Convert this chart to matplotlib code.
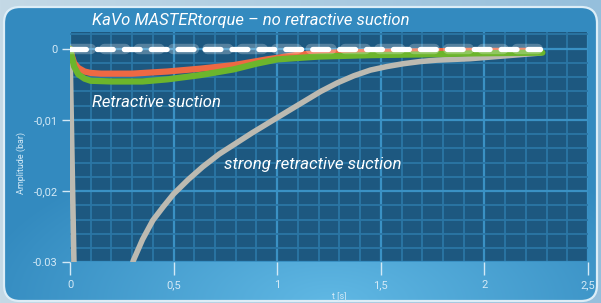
import numpy as np
import matplotlib
matplotlib.use("Agg")
import matplotlib.pyplot as plt
from matplotlib.patches import FancyBboxPatch

# ---- data (t in s, amplitude in bar) ----
t_orange = [0, 0.01, 0.02, 0.04, 0.07, 0.10, 0.15, 0.30, 0.47, 0.63, 0.79, 0.95, 1.11, 1.30,
            1.60, 1.90, 2.27]
amp_orange = [0, -0.0011, -0.0020, -0.0027, -0.0032, -0.0034, -0.0035, -0.0035, -0.0032,
              -0.0028, -0.0023, -0.0015, -0.0008, -0.0005, -0.0004, -0.0003, -0.0003]

t_green = [0, 0.01, 0.02, 0.04, 0.07, 0.10, 0.20, 0.35, 0.47, 0.63, 0.79, 0.90, 1.00, 1.20,
           1.45, 1.70, 1.95, 2.28]
amp_green = [0, -0.0013, -0.0025, -0.0036, -0.0042, -0.0045, -0.0046, -0.0046, -0.0043,
             -0.0037, -0.0029, -0.0021, -0.0015, -0.0011, -0.0009, -0.0008, -0.00065, -0.00055]

t_strong = [0, 0.005, 0.012, 0.019, 0.025, 0.28, 0.305, 0.35, 0.40, 0.45, 0.50, 0.57, 0.64,
            0.72, 0.80, 0.88, 0.965, 1.05, 1.13, 1.21, 1.29, 1.37, 1.45, 1.53, 1.61, 1.69,
            1.77, 1.85, 1.93, 2.10, 2.27]
amp_strong = [0, -0.008, -0.019, -0.030, -0.036, -0.033, -0.0298, -0.0268, -0.0241, -0.0222,
              -0.0204, -0.0184, -0.0166, -0.0148, -0.0133, -0.0118, -0.0103, -0.0088, -0.0074,
              -0.0060, -0.0048, -0.0038, -0.0030, -0.0025, -0.0021, -0.0018, -0.0016, -0.0015,
              -0.0014, -0.0010, -0.0006]

t_master = [0, 2.27]
amp_master = [0, 0]

x_ticks = [0, 0.5, 1, 1.5, 2, 2.5]
x_labels = ["0", "0,5", "1", "1,5", "2", "2,5"]
y_ticks = [0, -0.01, -0.02, -0.03]
y_labels = ["0", "-0,01", "-0,02", "-0.03"]

TXT = "#d3e9f6"
FONT = ["Roboto", "DejaVu Sans"]

fig = plt.figure(figsize=(6.01, 3.03), dpi=100)

# ---- background: outer gradient + rounded panel ----
bg = fig.add_axes([0, 0, 1, 1])
bg.set_xlim(0, 601)
bg.set_ylim(303, 0)
bg.axis("off")

xx, yy = np.meshgrid(np.linspace(0, 1, 601), np.linspace(0, 1, 303))
c0 = np.array([0xc4, 0xd9, 0xe6]) / 255
c1 = np.array([0x95, 0xbf, 0xdc]) / 255
outer = c0 + (c1 - c0) * xx[..., None]
bg.imshow(outer, extent=(0, 601, 303, 0), aspect="auto", zorder=0)

dark = np.array([0x33, 0x8a, 0xbf]) / 255
light = np.array([0x60, 0xb8, 0xe4]) / 255
w = np.clip(1 - np.sqrt(((xx - 0.55) / 0.6) ** 2 + ((yy - 1.0) / 0.55) ** 2), 0, 1)
panel_img = dark + (light - dark) * w[..., None]
im = bg.imshow(panel_img, extent=(0, 601, 303, 0), aspect="auto", zorder=1)
panel = FancyBboxPatch((4, 7), 593, 294, boxstyle="round,pad=0,rounding_size=16",
                       facecolor="none", edgecolor="#dcedf7", linewidth=1.6, zorder=2)
bg.add_patch(panel)
im.set_clip_path(panel)

bg.text(92, 20, "KaVo MASTERtorque \u2013 no retractive suction", color="white",
        fontsize=12, style="italic", family=FONT, ha="left", va="center")
bg.text(21, 163, "Amplitude (bar)", color=TXT, fontsize=6.5, family=FONT,
        rotation=90, ha="center", va="center")
bg.text(339, 297, "t [s]", color=TXT, fontsize=6.5, family=FONT, ha="center", va="center")

# ---- plot area ----
ax = fig.add_axes([70 / 601, (303 - 262.3) / 303, 518 / 601, 230.3 / 303])
ax.set_facecolor("#1d5880")
ax.set_xlim(0, 2.5)
ax.set_ylim(-0.03, 0.00235)
for s in ax.spines.values():
    s.set_visible(False)

ax.set_xticks(x_ticks)
ax.set_xticklabels(x_labels)
ax.set_yticks(y_ticks)
ax.set_yticklabels(y_labels)
ax.set_xticks(np.arange(0, 2.51, 0.1), minor=True)
ax.set_yticks(np.arange(-0.03, 0.0025, 0.002), minor=True)
ax.tick_params(which="minor", length=0)
ax.tick_params(axis="x", which="major", length=9, width=1, color=TXT, pad=4,
               labelsize=8, labelcolor=TXT)
ax.tick_params(axis="y", which="major", length=6, width=1, color=TXT, pad=3,
               labelsize=8, labelcolor=TXT)
for lab in ax.get_xticklabels() + ax.get_yticklabels():
    lab.set_family(FONT)
ax.grid(which="minor", color="#2b76a5", linewidth=1.3)
ax.grid(which="major", color="#3a91c4", linewidth=1.6)
ax.set_axisbelow(True)

ax.plot(t_strong, amp_strong, color="#bcbab1", linewidth=4, solid_capstyle="round", zorder=3)
ax.plot(t_orange, amp_orange, color="#ee6943", linewidth=4.5, solid_capstyle="round", zorder=4)
ax.plot(t_green, amp_green, color="#6cb52c", linewidth=4.5, solid_capstyle="round", zorder=5)

# white dashed line with glow
ax.plot(t_master, amp_master, color="white", alpha=0.25, linewidth=7.5,
        linestyle=(0, (2.0, 1.3)), dash_capstyle="round", zorder=6)
ax.plot(t_master, amp_master, color="white", linewidth=3.8,
        linestyle=(0, (3, 2.1)), dash_capstyle="round", zorder=7)

ax.text(0.106, -0.0075, "Retractive suction", color="white", fontsize=12,
        style="italic", family=FONT, ha="left", va="center")
ax.text(0.743, -0.0163, "strong retractive suction", color="white", fontsize=12.2,
        style="italic", family=FONT, ha="left", va="center")

fig.savefig("out.png", dpi=100)
